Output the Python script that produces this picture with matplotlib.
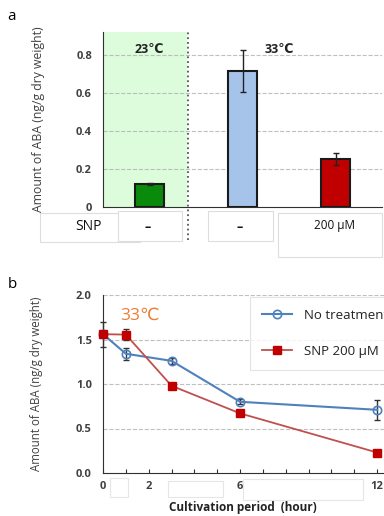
import matplotlib
matplotlib.use('Agg')
import matplotlib.pyplot as plt
from matplotlib.patches import Rectangle

plt.rcParams['font.family'] = ['Open Sans', 'DejaVu Sans']

# panel a data
groups = ['23C', '33C', '33C SNP']
aba_a = [0.12, 0.716, 0.253]
err_a = [0.005, 0.11, 0.03]
bar_colors = ['#0a8a0a', '#a6c4ea', '#c00000']
a_ticks = [0, 0.2, 0.4, 0.6, 0.8]
a_ticklabels = ['0', '0.2', '0.4', '0.6', '0.8']

# panel b data
hours = [0, 1, 3, 6, 12]
no_treat = [1.56, 1.34, 1.26, 0.80, 0.71]
no_treat_err = [0.14, 0.07, 0.03, 0.03, 0.11]
snp = [1.56, 1.555, 0.98, 0.67, 0.23]
snp_err = [0.0, 0.06, 0.02, 0.02, 0.02]
b_ticks = [0, 0.5, 1.0, 1.5, 2.0]
x_labeled = [0, 2, 6, 12]

W, H = 384, 516
fig = plt.figure(figsize=(3.84, 5.16), dpi=100)

def fx(px):
    return px / W

def fy(py):
    return 1 - py / H

grey = '#404040'

# ---------------- panel a ----------------
ax1 = fig.add_axes([fx(103), fy(207), fx(382) - fx(103), (207 - 32) / H])
ax1.set_xlim(-0.5, 2.5)
ax1.set_ylim(0, 0.92)
ax1.axvspan(-0.5, 0.39, color='#dcfcdc', zorder=0)
for t in a_ticks[1:]:
    ax1.axhline(t, color='#b0b0b0', linestyle='--', linewidth=0.8, alpha=0.8, zorder=1)
ax1.bar(range(len(aba_a)), aba_a, width=0.32, color=bar_colors,
        edgecolor='#1a1a1a', linewidth=1.5, zorder=3)
ax1.errorbar(range(len(aba_a)), aba_a, yerr=err_a, fmt='none', ecolor='#222222',
             elinewidth=1, capsize=2.5, zorder=4)
ax1.axvline(0.41, ymin=-0.19, ymax=1.0, color='#555555', linestyle=':',
            linewidth=1.3, clip_on=False, zorder=5)
for s in ['top', 'right']:
    ax1.spines[s].set_visible(False)
ax1.spines['left'].set_color('#303030')
ax1.spines['bottom'].set_color('#303030')
ax1.set_xticks([])
ax1.set_yticks(a_ticks)
ax1.set_yticklabels(a_ticklabels, fontsize=8, color=grey, fontweight='bold')
ax1.tick_params(axis='y', length=0, pad=8)
ax1.set_ylabel('Amount of ABA (ng/g dry weight)', fontsize=8.8, color=grey)
ax1.yaxis.set_label_coords(fx(45 - 103) / (fx(382) - fx(103)), 0.5)
ax1.text(0, 0.83, '23℃', ha='center', va='center', fontsize=9, fontweight='bold',
         color='#222222', zorder=6)
ax1.text(1.4, 0.83, '33℃', ha='center', va='center', fontsize=9, fontweight='bold',
         color='#222222', zorder=6)

# table boxes below panel a
boxes = [(40, 213, 100, 29), (118, 211, 64, 30), (208, 211, 65, 30), (278, 213, 104, 44)]
for x0, y0, w, h in boxes:
    fig.patches.append(Rectangle((fx(x0), fy(y0 + h)), w / W, h / H,
                                 transform=fig.transFigure, facecolor='white',
                                 edgecolor='#dddddd', linewidth=0.8))
fig.text(fx(88), fy(227), 'SNP', ha='center', va='center', fontsize=10, color='#111111')
fig.text(fx(148), fy(227), '–', ha='center', va='center', fontsize=9,
         fontweight='bold', color='#111111')
fig.text(fx(240), fy(227), '–', ha='center', va='center', fontsize=9,
         fontweight='bold', color='#111111')
fig.text(fx(334), fy(225), '200 μM', ha='center', va='center', fontsize=8.5, color='#111111')

fig.text(fx(12), fy(16), 'a', ha='center', va='center', fontsize=11)
fig.text(fx(12), fy(284), 'b', ha='center', va='center', fontsize=11)

# ---------------- panel b ----------------
ax2_h = (473 - 295) / H
ax2_w = 1 - fx(103)
ax2 = fig.add_axes([fx(103), fy(473), ax2_w, ax2_h])
ax2.set_xlim(0, 12.3)
ax2.set_ylim(0, 2.0)
for t in b_ticks[1:]:
    ax2.axhline(t, color='#b0b0b0', linestyle='--', linewidth=0.8, alpha=0.8, zorder=1)
ax2.errorbar(hours, no_treat, yerr=no_treat_err, fmt='none', ecolor='#333333',
             elinewidth=1, capsize=2.5, zorder=2, clip_on=False)
ax2.errorbar(hours, snp, yerr=snp_err, fmt='none', ecolor='#333333',
             elinewidth=1, capsize=2.5, zorder=2, clip_on=False)
ax2.plot(hours, no_treat, color='#4f81bd', marker='o', markersize=6,
         markerfacecolor='none', markeredgecolor='#4f81bd', markeredgewidth=1.2,
         linewidth=1.5, label='No treatment', zorder=3, clip_on=False)
ax2.plot(hours, snp, color='#c0504d', marker='s', markersize=6,
         markerfacecolor='#c00000', markeredgecolor='#c00000',
         linewidth=1.3, label='SNP 200 μM', zorder=4, clip_on=False)
for s in ['top', 'right']:
    ax2.spines[s].set_visible(False)
ax2.spines['left'].set_color('#303030')
ax2.spines['bottom'].set_color('#303030')
ax2.set_xticks(range(13))
ax2.set_xticklabels([str(i) if i in x_labeled else '' for i in range(13)],
                    fontsize=8, color=grey, fontweight='bold')
ax2.tick_params(axis='x', direction='in', length=3, color='#303030', pad=6)
ax2.set_yticks(b_ticks)
ax2.set_yticklabels(['%.1f' % t for t in b_ticks], fontsize=8, color=grey,
                    fontweight='bold')
ax2.tick_params(axis='y', length=0, pad=8)
ax2.set_ylabel('Amount of ABA (ng/g dry weight)', fontsize=8.3, color=grey)
ax2.yaxis.set_label_coords(fx(43 - 103) / ax2_w, 0.5)
ax2.set_xlabel('Cultivation period  (hour)', fontsize=8.5, color='#222222',
               fontweight='bold')
ax2.xaxis.set_label_coords((fx(243) - fx(103)) / ax2_w, (473 - 508) / (473 - 295))
ax2.xaxis.label.set_va('center')
ax2.text(fx(140 - 103) / ax2_w, (473 - 316) / (473 - 295), '33℃',
         transform=ax2.transAxes, ha='center', va='center', fontsize=12.5,
         color='#ed7d31')

# white boxes covering tick labels
for x0, y0, w, h in [(110, 478, 18, 19), (168, 481, 55, 16), (243, 479, 120, 21)]:
    fig.patches.append(Rectangle((fx(x0), fy(y0 + h)), w / W, h / H,
                                 transform=fig.transFigure, facecolor='white',
                                 edgecolor='#e6e6e6', linewidth=0.8, zorder=5))

leg = ax2.legend(loc='upper left', bbox_to_anchor=(fx(250), fy(297)),
                 bbox_transform=fig.transFigure, fontsize=9.5, frameon=True,
                 fancybox=False, edgecolor='#dddddd', labelspacing=1.75,
                 borderpad=0.9, handlelength=2.3, handletextpad=0.9,
                 borderaxespad=0)
leg.get_frame().set_linewidth(0.8)
for txt in leg.get_texts():
    txt.set_color('#222222')

fig.savefig('out.png', dpi=100)
